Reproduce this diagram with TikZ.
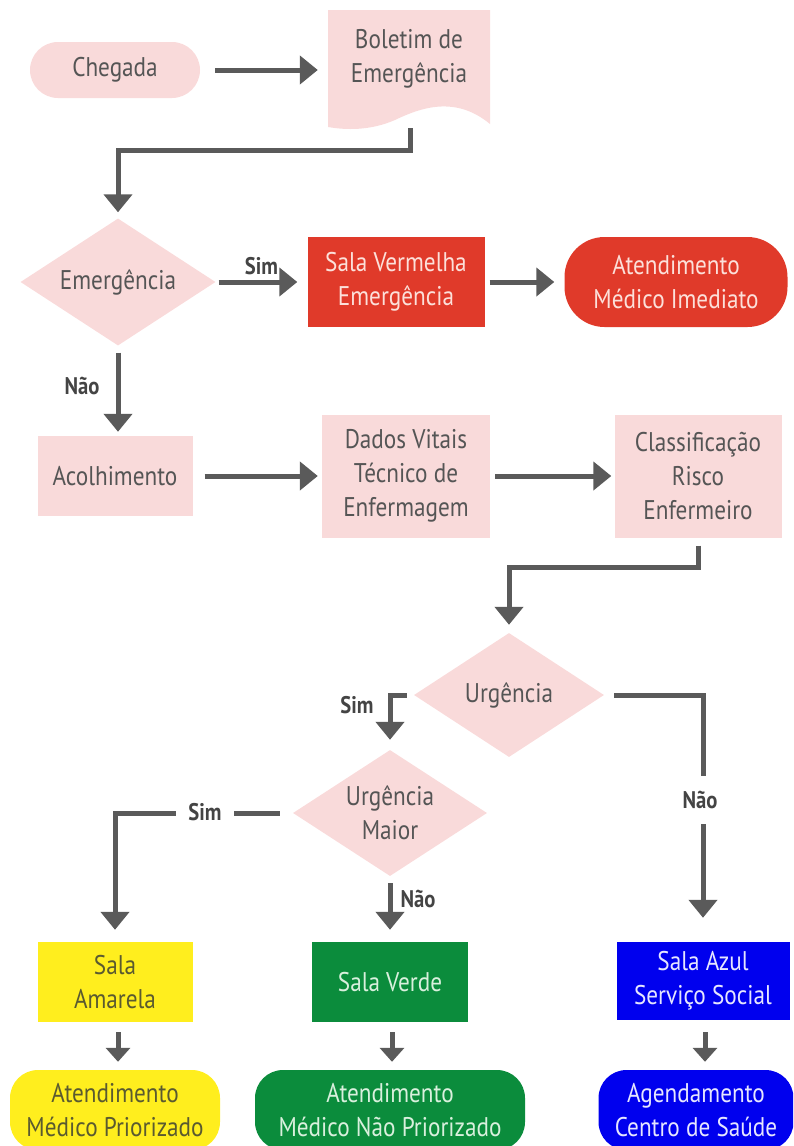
\documentclass[tikz,border=0pt]{standalone}
\usepackage{fontspec}
\setmainfont{PT Sans}[FakeStretch=0.86]
\usetikzlibrary{shapes.geometric,arrows.meta}
\definecolor{pinkf}{HTML}{F9DADA}
\definecolor{pinkt}{HTML}{555555}
\definecolor{redf}{HTML}{E03A2A}
\definecolor{redt}{HTML}{FCE0DA}
\definecolor{yelf}{HTML}{FFEE1E}
\definecolor{yelt}{HTML}{5A5A30}
\definecolor{grnf}{HTML}{0B8C3C}
\definecolor{grnt}{HTML}{D9F0DD}
\definecolor{bluf}{HTML}{0000EE}
\definecolor{blut}{HTML}{E6E6FF}
\definecolor{arrg}{HTML}{5A5A5A}
\definecolor{lblt}{HTML}{444444}
\tikzset{
  txt/.style={font=\fontsize{27}{34}\selectfont, align=center, inner sep=0pt},
  pinkbox/.style={txt, rectangle, fill=pinkf, text=pinkt},
  pill/.style={txt, rectangle, rounded corners=28pt},
  dia/.style={diamond, fill=pinkf, inner sep=0pt},
  dlab/.style={txt, text=pinkt},
  arr/.style={line width=5pt, draw=arrg, -{Triangle[width=28pt,length=18pt]}},
  sarr/.style={line width=5pt, draw=arrg, -{Triangle[width=24pt,length=14pt]}},
  lbl/.style={font=\fontsize{24}{28}\selectfont\bfseries, text=lblt, inner sep=2pt},
}
\begin{document}
\begin{tikzpicture}[x=1pt,y=-1pt]
\useasboundingbox (0,0) rectangle (793,1146);
\clip (0,0) rectangle (793,1146);
% row 1
\node[pill, fill=pinkf, text=pinkt, minimum width=170pt, minimum height=56pt] (cheg) at (115,70) {Chegada};
\fill[pinkf] (328,10) -- (490,10) -- (490,124) .. controls (455,95) and (420,108) .. (395,120) .. controls (370,131) and (345,130) .. (328,127) -- cycle;
\node[txt, text=pinkt, minimum width=162pt, minimum height=98pt] (bol) at (409,59) {Boletim de\\Emergência};
\coordinate (bolout) at (410,128);
\draw[arr, shorten <=15pt, shorten >=10pt] (cheg.east) -- (cheg.east -| bol.west);
% row 2
\node[dia, minimum width=195pt, minimum height=127pt, label={[dlab]center:Emergência}] (emer) at (118,282) {};
\node[txt, fill=redf, text=redt, minimum width=177pt, minimum height=90pt] (sv) at (396,282) {Sala Vermelha\\Emergência};
\node[pill, rounded corners=40pt, fill=redf, text=redt, minimum width=223pt, minimum height=90pt] (ami) at (676,282) {Atendimento\\Médico Imediato};
\draw[arr, shorten >=6pt] (bolout) -- ++(0,22) -| (emer.north);
\draw[arr, shorten <=3pt, shorten >=10pt] (emer.east) -- node[lbl, above=3pt] (sim1) {Sim} (sv.west);
\draw[arr, shorten <=5pt, shorten >=10pt] (sv.east) -- (ami.west);
% row 3
\node[pinkbox, minimum width=155pt, minimum height=80pt] (acol) at (115,476) {Acolhimento};
\node[pinkbox, minimum width=168pt, minimum height=123pt] (dados) at (406,476) {Dados Vitais\\Técnico de\\Enfermagem};
\node[pinkbox, minimum width=167pt, minimum height=123pt] (class) at (698,476) {Classificação\\Risco\\Enfermeiro};
\draw[arr, shorten <=7pt, shorten >=4pt] (emer.south) -- node[lbl, left=14pt, pos=0.45] (nao1) {Não} (emer.south |- acol.north);
\draw[arr, shorten <=12pt, shorten >=4pt] (acol.east) -- (dados.west);
\draw[arr, shorten <=5pt, shorten >=3pt] (dados.east) -- (class.west);
% row 4
\node[dia, minimum width=190pt, minimum height=124pt, label={[dlab]center:Urgência}] (urg) at (509,695) {};
\node[dia, minimum width=194pt, minimum height=126pt, label={[dlab]center:Urgência\\Maior}] (umaj) at (390,813) {};
\draw[arr, shorten <=8pt, shorten >=8pt] (class.south) -- ++(0,30) -| (urg.north);
\draw[arr, shorten >=10pt] ([xshift=-7pt]urg.west) -| (umaj.north);
\node[lbl] (sim2) at (357,705) {Sim};
% row 5
\node[txt, fill=yelf, text=yelt, minimum width=155pt, minimum height=80pt] (amar) at (115,982) {Sala\\Amarela};
\node[txt, fill=grnf, text=grnt, minimum width=156pt, minimum height=80pt] (verde) at (390,982) {Sala Verde};
\node[txt, fill=bluf, text=blut, minimum width=173pt, minimum height=78pt] (azul) at (703,981) {Sala Azul\\Serviço Social};
\draw[arr, shorten >=24pt] ([xshift=10pt]urg.east) -| (azul.north);
\node[lbl, fill=white, inner ysep=15pt, inner xsep=6pt] (nao2) at (700,800) {Não};
\draw[arr, shorten >=12pt] ([xshift=-13pt]umaj.west) -| (amar.north);
\node[lbl, fill=white, inner xsep=12pt] (sim3) at (205,812) {Sim};
\draw[arr, shorten <=7pt, shorten >=12pt] (umaj.south) -- node[lbl, right=6pt, pos=0.35] (nao3) {Não} (umaj.south |- verde.north);
% row 6
\node[pill, fill=yelf, text=yelt, minimum width=210pt, minimum height=80pt] (amp) at (115,1110) {Atendimento\\Médico Priorizado};
\node[pill, fill=grnf, text=grnt, minimum width=270pt, minimum height=80pt] (anp) at (390,1110) {Atendimento\\Médico Não Priorizado};
\node[pill, fill=bluf, text=blut, minimum width=195pt, minimum height=80pt] (acs) at (696,1110) {Agendamento\\Centro de Saúde};
\draw[sarr, shorten <=10pt, shorten >=8pt] ([xshift=3pt]amar.south) -- ([xshift=3pt]amar.south |- amp.north);
\draw[sarr, shorten <=10pt, shorten >=8pt] ([xshift=2pt]verde.south) -- ([xshift=2pt]verde.south |- anp.north);
\draw[sarr, shorten <=12pt, shorten >=8pt] ([xshift=2pt]azul.south) -- ([xshift=2pt]azul.south |- acs.north);
\end{tikzpicture}
\end{document}
